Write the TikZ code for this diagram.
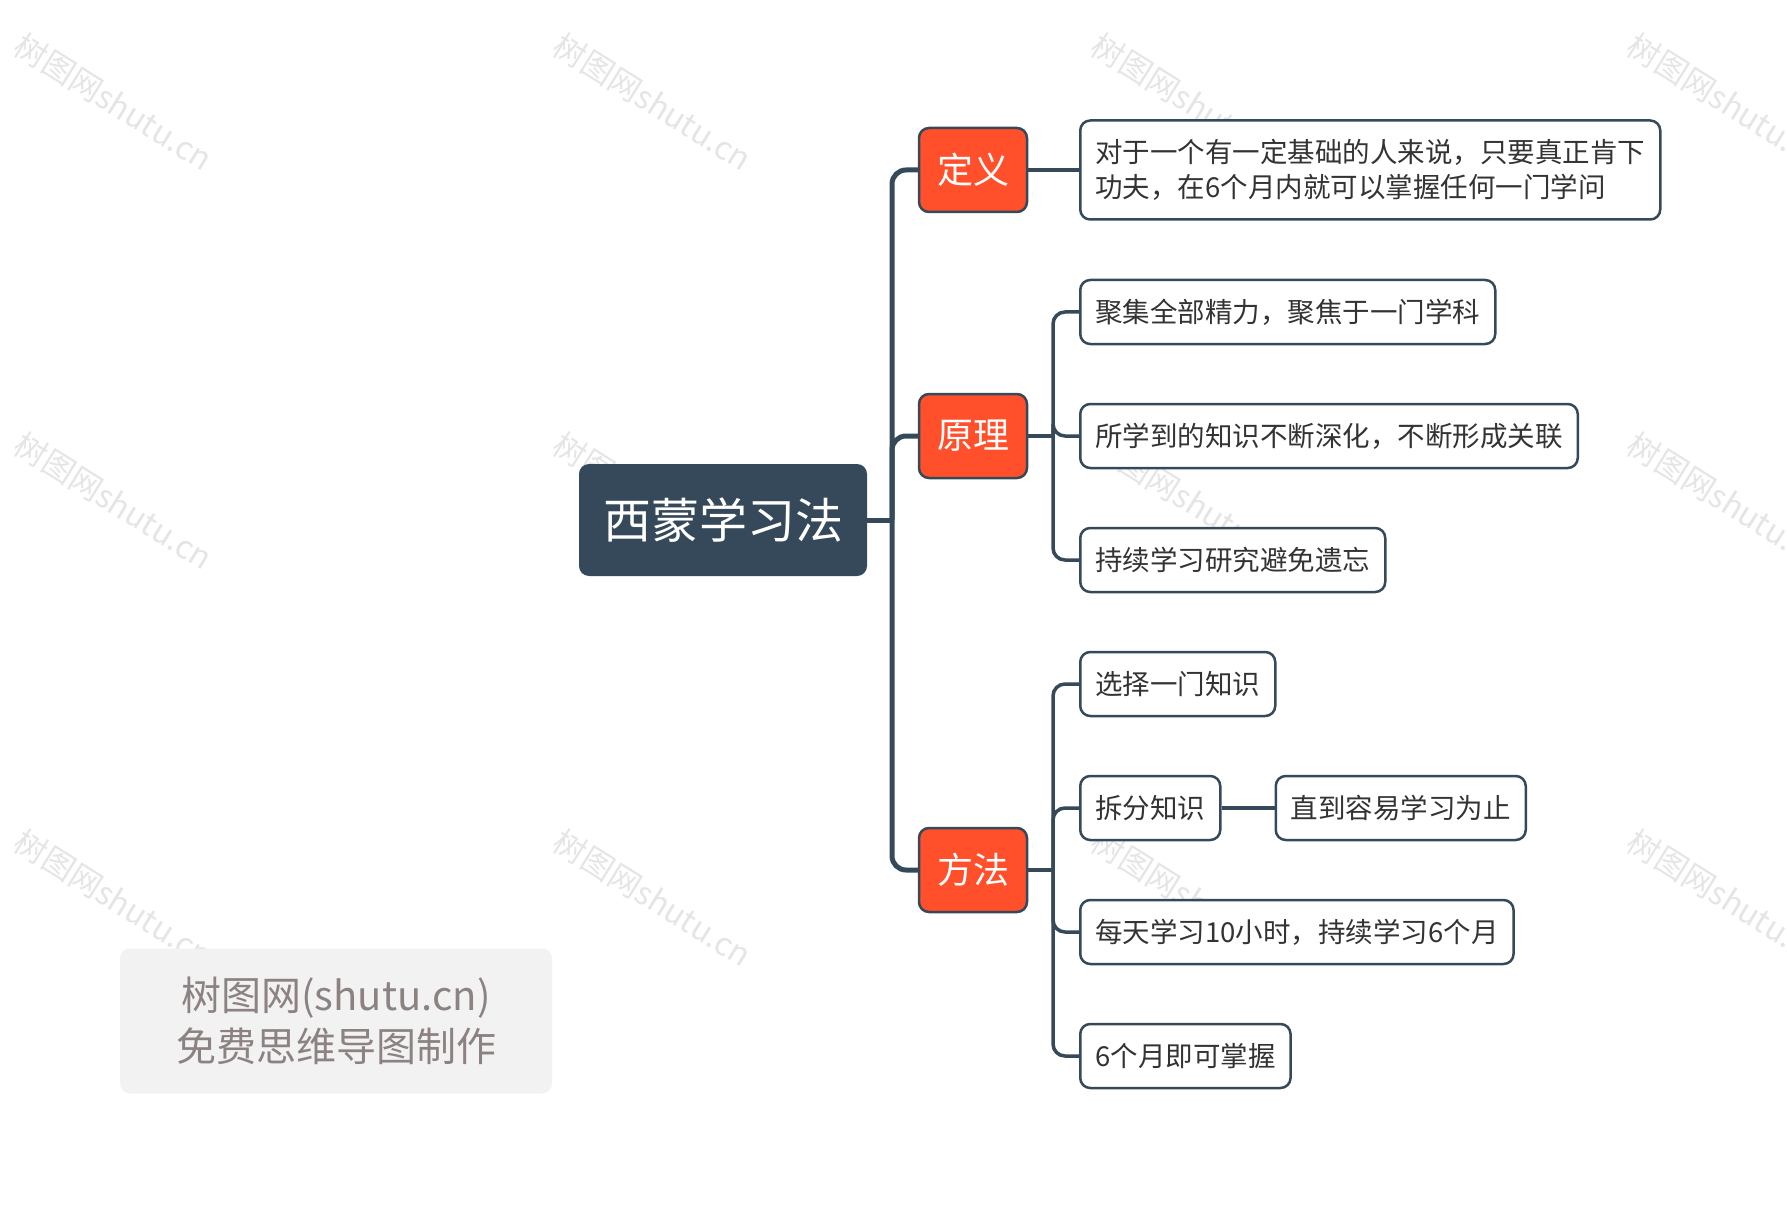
\documentclass[tikz,border=0pt]{standalone}
\usepackage{fontspec}
\setmainfont{Noto Sans CJK SC}
\usetikzlibrary{positioning}
\definecolor{slate}{HTML}{36495A}
\definecolor{branchred}{HTML}{FF502B}
\definecolor{markgray}{HTML}{8C8282}
\definecolor{boxgray}{HTML}{F2F2F2}

\begin{document}
\begin{tikzpicture}[x=1pt, y=-1pt,
    rootbox/.style={fill=slate, text=white, rounded corners=10pt, minimum width=288pt,
        minimum height=112pt, inner sep=0pt, font=\fontsize{48}{56}\selectfont},
    topicbox/.style={fill=branchred, draw=slate, line width=2.5pt, text=white, rounded corners=10pt,
        minimum width=108pt, minimum height=84pt, inner sep=0pt, font=\fontsize{36}{42}\selectfont},
    leafbox/.style={draw=slate, fill=white, line width=2.5pt, rounded corners=10pt, anchor=west,
        minimum height=64pt, inner xsep=15pt, inner ysep=0pt, align=left,
        font=\fontsize{27.5}{35}\selectfont, text=black!80},
    mainlink/.style={draw=slate, line width=5pt, rounded corners=14pt},
    sublink/.style={draw=slate, line width=3.5pt, rounded corners=12pt},
    wmark/.style={text=black!10, rotate=-32, font=\fontsize{32}{36}\selectfont}]
    \useasboundingbox (0,0) rectangle (1787,1214);

    % watermark
    \foreach \wx in {114,653,1191,1727}
        \foreach \wy in {102,501,898}
            \node[wmark] at (\wx,\wy) {树图网shutu.cn};
    \node[fill=boxgray, rounded corners=10pt, minimum width=432pt, minimum height=145pt,
        text=markgray, align=center, font=\fontsize{40}{51}\selectfont] (mark) at (336,1021)
        {树图网(shutu.cn)\\免费思维导图制作};

    % root and topics
    \node[rootbox] (root) at (723,520) {西蒙学习法};
    \node[topicbox] (def) at (973,170) {定义};
    \node[topicbox] (pri) at (973,436) {原理};
    \node[topicbox] (way) at (973,870) {方法};
    \coordinate (j0) at (892,520);
    \draw[mainlink] (root.east) -- (j0);
    \draw[mainlink] (j0) |- (def.west);
    \draw[mainlink] (j0) |- (pri.west);
    \draw[mainlink] (j0) |- (way.west);

    % definition
    \node[leafbox, minimum height=99pt] (d1) at (1079,170)
        {对于一个有一定基础的人来说，只要真正肯下\\功夫，在6个月内就可以掌握任何一门学问};
    \draw[sublink] (def.east) -- (d1.west);

    % principle
    \node[leafbox] (p1) at (1079,312) {聚集全部精力，聚焦于一门学科};
    \node[leafbox] (p2) at (1079,436) {所学到的知识不断深化，不断形成关联};
    \node[leafbox] (p3) at (1079,560) {持续学习研究避免遗忘};
    \coordinate (j1) at (1053,436);
    \draw[sublink] (pri.east) -- (j1);
    \foreach \leaf in {p1,p2,p3}
        \draw[sublink] (j1) |- (\leaf.west);

    % method
    \node[leafbox] (m1) at (1079,684) {选择一门知识};
    \node[leafbox] (m2) at (1079,808) {拆分知识};
    \node[leafbox, right=53pt of m2] (m2a) {直到容易学习为止};
    \node[leafbox] (m3) at (1079,932) {每天学习10小时，持续学习6个月};
    \node[leafbox] (m4) at (1079,1056) {6个月即可掌握};
    \coordinate (j2) at (1053,870);
    \draw[sublink] (way.east) -- (j2);
    \foreach \leaf in {m1,m2,m3,m4}
        \draw[sublink] (j2) |- (\leaf.west);
    \draw[sublink] (m2.east) -- (m2a.west);
\end{tikzpicture}
\end{document}
